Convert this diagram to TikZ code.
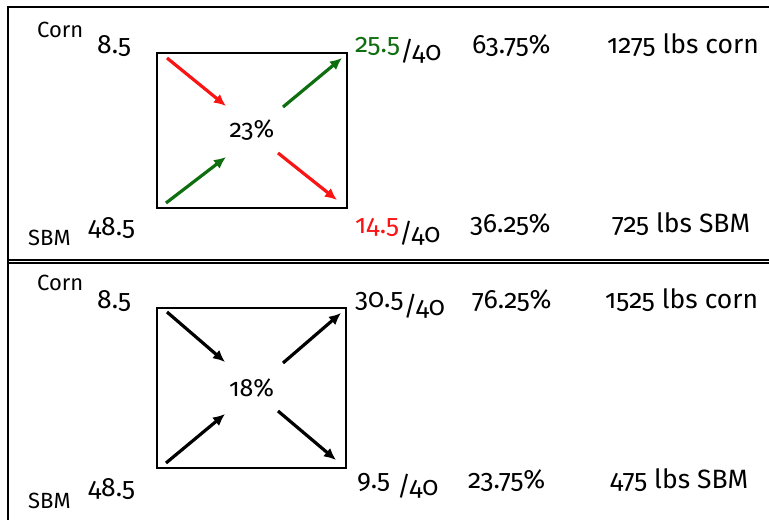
\documentclass[tikz,border=0pt]{standalone}
\usepackage{fontspec}
\setmainfont[Numbers=OldStyle]{Fira Sans}
\usepackage{tikz}
\usetikzlibrary{arrows.meta}

\definecolor{mixgreen}{RGB}{15,110,15}
\definecolor{mixred}{RGB}{250,20,20}

\begin{document}
\begin{tikzpicture}[x=1pt, y=-1pt,
		num/.style={anchor=base west, inner sep=0pt, font=\fontsize{26.5}{30}\selectfont},
		lbl/.style={anchor=base west, inner sep=0pt, font=\fontsize{22}{26}\selectfont},
		cell/.style={draw, line width=1.9pt, inner sep=0pt, font=\fontsize{25}{28}\selectfont},
		arr/.style={line width=3.2pt, -{Latex[length=12pt,width=11pt]}}]
				\useasboundingbox (0,0) rectangle (769,520);
				% Frame
				\draw[line width=2pt] (769,7) -- (8.3,7) -- (8.3,520);
				\draw[line width=2pt] (8.3,259.5) -- (769,259.5);
				\draw[line width=2pt] (8.3,263.2) -- (769,263.2);
				% Top square
				\node[lbl] (t-corn) at (37,37) {Corn};
				\node[num] (t-cin) at (97,53) {8.5};
				\node[lbl] (t-sbm) at (28,245) {SBM};
				\node[num] (t-sin) at (88,235) {48.5};
				\node[cell, minimum width=190, minimum height=155] (t-box) at (252,130.5) {23\%};
				\node[num] (t-cout) at (355,52) {\textcolor{mixgreen}{25.5}\raisebox{-8pt}{/40}};
				\node[num] (t-sout) at (355,233) {\textcolor{mixred}{14.5}\raisebox{-9pt}{/40}};
				\node[num] (t-cpct) at (472,53) {63.75\%};
				\node[num] (t-spct) at (470,232) {36.25\%};
				\node[num] (t-clbs) at (607,53) {1275 lbs corn};
				\node[num] (t-slbs) at (612,232) {725 lbs SBM};
				% Top arrows
				\coordinate (t-a1) at (167,58);  \coordinate (t-b1) at (226,106);
				\coordinate (t-a2) at (283,107); \coordinate (t-b2) at (342,58);
				\coordinate (t-a3) at (166,203); \coordinate (t-b3) at (226,157);
				\coordinate (t-a4) at (278,153); \coordinate (t-b4) at (337,200);
				\draw[arr, mixred] (t-a1) -- (t-b1);
				\draw[arr, mixgreen] (t-a2) -- (t-b2);
				\draw[arr, mixgreen] (t-a3) -- (t-b3);
				\draw[arr, mixred] (t-a4) -- (t-b4);
				% Bottom square
				\node[lbl] (b-corn) at (37,290) {Corn};
				\node[num] (b-cin) at (97,308) {8.5};
				\node[lbl] (b-sbm) at (28,508) {SBM};
				\node[num] (b-sin) at (88,496) {48.5};
				\node[cell, minimum width=189, minimum height=160] (b-box) at (251.5,388) {18\%};
				\node[num] (b-cout) at (355,307) {30.5\raisebox{-8pt}{/40}};
				\node[num] (b-sout) at (357,488) {9.5 \raisebox{-7pt}{/40}};
				\node[num] (b-cpct) at (472,308) {76.25\%};
				\node[num] (b-spct) at (468,488) {23.75\%};
				\node[num] (b-clbs) at (605,308) {1525 lbs corn};
				\node[num] (b-slbs) at (610,488) {475 lbs SBM};
				% Bottom arrows
				\coordinate (b-a1) at (167,312); \coordinate (b-b1) at (225,362);
				\coordinate (b-a2) at (283,363); \coordinate (b-b2) at (341,313);
				\coordinate (b-a3) at (166,463); \coordinate (b-b3) at (225,414);
				\coordinate (b-a4) at (278,411); \coordinate (b-b4) at (336,460);
				\foreach \i in {1,2,3,4}
					\draw[arr] (b-a\i) -- (b-b\i);
			\end{tikzpicture}
\end{document}
